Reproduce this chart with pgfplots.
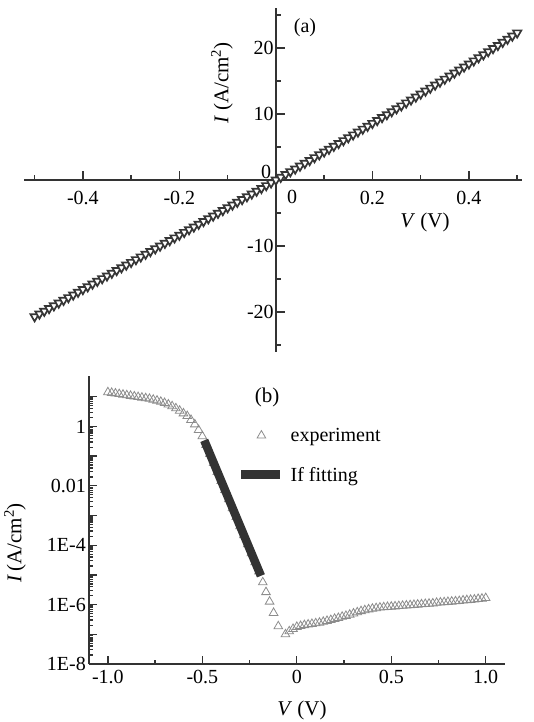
\documentclass[border=0pt]{standalone}
\usepackage{fontspec}
\setmainfont{Liberation Serif}
\usepackage{pgfplots}
\pgfplotsset{compat=1.18}
\definecolor{axisgray}{HTML}{333333}
\definecolor{markA}{HTML}{363636}
\definecolor{markB}{HTML}{8C8C8C}
\definecolor{fitc}{HTML}{333333}
\pgfplotsset{
  markleg/.style={legend image code/.code={\draw[mark repeat=2,mark phase=2,##1] plot coordinates {(0pt,0pt) (20pt,0pt) (39pt,0pt)};}},
  lineleg/.style={legend image code/.code={\draw[##1] (0pt,0pt) -- (39pt,0pt);}},
}
\pgfplotstableread{
V I
-0.50 -20.69
-0.49 -20.27
-0.48 -19.86
-0.47 -19.45
-0.46 -19.04
-0.45 -18.62
-0.44 -18.21
-0.43 -17.80
-0.42 -17.39
-0.41 -16.98
-0.40 -16.57
-0.39 -16.16
-0.38 -15.74
-0.37 -15.33
-0.36 -14.92
-0.35 -14.51
-0.34 -14.10
-0.33 -13.69
-0.32 -13.28
-0.31 -12.87
-0.30 -12.46
-0.29 -12.04
-0.28 -11.63
-0.27 -11.22
-0.26 -10.81
-0.25 -10.40
-0.24 -9.99
-0.23 -9.57
-0.22 -9.16
-0.21 -8.75
-0.20 -8.34
-0.19 -7.92
-0.18 -7.51
-0.17 -7.10
-0.16 -6.68
-0.15 -6.27
-0.14 -5.85
-0.13 -5.44
-0.12 -5.02
-0.11 -4.61
-0.10 -4.19
-0.09 -3.77
-0.08 -3.36
-0.07 -2.94
-0.06 -2.52
-0.05 -2.10
-0.04 -1.68
-0.03 -1.26
-0.02 -0.84
-0.01 -0.42
0.00 0.00
0.01 0.42
0.02 0.85
0.03 1.27
0.04 1.69
0.05 2.12
0.06 2.54
0.07 2.97
0.08 3.40
0.09 3.83
0.10 4.26
0.11 4.68
0.12 5.12
0.13 5.55
0.14 5.98
0.15 6.41
0.16 6.85
0.17 7.28
0.18 7.72
0.19 8.15
0.20 8.59
0.21 9.03
0.22 9.47
0.23 9.91
0.24 10.36
0.25 10.80
0.26 11.24
0.27 11.69
0.28 12.14
0.29 12.58
0.30 13.03
0.31 13.48
0.32 13.93
0.33 14.39
0.34 14.84
0.35 15.29
0.36 15.75
0.37 16.21
0.38 16.67
0.39 17.13
0.40 17.59
0.41 18.05
0.42 18.52
0.43 18.98
0.44 19.45
0.45 19.92
0.46 20.39
0.47 20.86
0.48 21.34
0.49 21.81
0.50 22.29
}\dataA
\pgfplotstableread{
V I
-1.00 14.13
-0.98 13.49
-0.96 12.88
-0.94 12.30
-0.92 11.75
-0.90 11.22
-0.88 10.72
-0.86 10.23
-0.84 9.772
-0.82 9.333
-0.80 8.913
-0.78 8.511
-0.76 7.943
-0.74 7.413
-0.72 6.761
-0.70 6.166
-0.68 5.495
-0.66 4.786
-0.64 4.074
-0.62 3.388
-0.60 2.754
-0.58 2.239
-0.56 1.660
-0.54 1.175
-0.52 0.7586
-0.50 0.4677
-0.48 0.2399
-0.46 0.1175
-0.44 0.05888
-0.42 0.02951
-0.40 0.01445
-0.38 0.007244
-0.36 0.003548
-0.34 0.001778
-0.32 8.913e-4
-0.30 4.365e-4
-0.28 2.188e-4
-0.26 1.072e-4
-0.24 5.370e-5
-0.22 2.692e-5
-0.20 1.318e-5
-0.180 5.623e-6
-0.163 2.630e-6
-0.144 1.259e-6
-0.123 5.248e-7
-0.098 1.862e-7
-0.060 1.0e-7
-0.04 1.259e-7
-0.02 1.514e-7
0.00 1.778e-7
0.02 1.905e-7
0.04 2.042e-7
0.06 2.138e-7
0.08 2.239e-7
0.10 2.344e-7
0.12 2.455e-7
0.14 2.630e-7
0.16 2.818e-7
0.18 3.020e-7
0.20 3.311e-7
0.22 3.548e-7
0.24 3.890e-7
0.26 4.169e-7
0.28 4.571e-7
0.30 5.012e-7
0.32 5.495e-7
0.34 6.026e-7
0.36 6.457e-7
0.38 6.918e-7
0.40 7.244e-7
0.42 7.586e-7
0.44 7.943e-7
0.46 8.128e-7
0.48 8.318e-7
0.50 8.511e-7
0.52 8.710e-7
0.54 8.913e-7
0.56 9.120e-7
0.58 9.333e-7
0.60 9.550e-7
0.62 9.772e-7
0.64 1.000e-6
0.66 1.023e-6
0.68 1.047e-6
0.70 1.072e-6
0.72 1.096e-6
0.74 1.148e-6
0.76 1.175e-6
0.78 1.202e-6
0.80 1.230e-6
0.82 1.259e-6
0.84 1.288e-6
0.86 1.318e-6
0.88 1.380e-6
0.90 1.413e-6
0.92 1.445e-6
0.94 1.479e-6
0.96 1.549e-6
0.98 1.585e-6
1.00 1.660e-6
}\dataB
\pgfplotstableread{
V I
-0.49 0.339
-0.39 0.01023
-0.29 3.090e-4
-0.19 9.333e-6
}\dataFit
\begin{document}
\begin{tikzpicture}[x=1pt,y=1pt]
\useasboundingbox (0,0) rectangle (533,722);
\pgfplotsset{
  every axis/.append style={font=\fontsize{20}{24}\selectfont},
  tick label style={font=\fontsize{20}{24}\selectfont, text=black},
}
% ---------------- panel (a)
\begin{axis}[
  at={(24pt,370.3pt)}, anchor=south west,
  scale only axis, width=498pt, height=343.4pt,
  xmin=-0.522, xmax=0.51, ymin=-26, ymax=26,
  axis lines=middle,
  axis line style={-, line width=1.8pt, axisgray},
  xtick={-0.4,-0.2,0.2,0.4}, xticklabels={},
  minor xtick={-0.5,-0.3,-0.1,0.1,0.3,0.5},
  ytick={-20,-10,10,20}, yticklabels={-20,-10,10,20},
  minor ytick={-25,-15,-5,5,15,25},
  tick align=inside,
  major tick length=9pt, minor tick length=5pt,
  every tick/.style={line width=1.5pt, axisgray},
  yticklabel style={anchor=east, inner sep=0pt, xshift=-2pt},
  clip=false,
]
\addplot[only marks, mark=triangle*, mark size=4.8pt,
  mark options={rotate=180, line width=1.7pt, draw=markA, fill=white}]
  table[x=V, y=I] {\dataA};
\foreach \t in {-0.4,-0.2,0.2,0.4} {
  \edef\tmp{\noexpand\node[text=black] at (axis cs:\t,0) [yshift=-18pt] {\t};}\tmp
}
\end{axis}
\node at (292,525) {\fontsize{20}{24}\selectfont 0};
\node at (266,550.3) {\fontsize{20}{24}\selectfont 0};
\node at (305,694) {\fontsize{20}{24}\selectfont (a)};
\node[rotate=90] at (222,639) {\fontsize{21}{24}\selectfont \textit{I} (A/cm\textsuperscript{2})};
\node at (425,500) {\fontsize{21}{24}\selectfont \textit{V} (V)};
% ---------------- panel (b)
\begin{axis}[
  at={(89pt,58pt)}, anchor=south west,
  scale only axis, width=415.6pt, height=288pt,
  xmin=-1.1, xmax=1.1, ymode=log, ymin=1e-8, ymax=50,
  axis x line=bottom, axis y line=left,
  axis line style={-, line width=1.8pt, axisgray},
  xtick={-1,-0.5,0,0.5,1}, xticklabels={-1.0,-0.5,0,0.5,1.0},
  minor xtick={-0.75,-0.25,0.25,0.75},
  ytick={1e-8,1e-7,1e-6,1e-5,1e-4,1e-3,1e-2,1e-1,1,10},
  yticklabels={1E-8,,1E-6,,1E-4,,0.01,,1,},
  tick align=inside,
  major tick length=8pt, minor tick length=4pt,
  every tick/.style={line width=1.3pt, axisgray},
  xticklabel style={anchor=north, inner sep=0pt, yshift=-6pt},
  yticklabel style={anchor=east, inner sep=0pt, xshift=-3pt},
  clip mode=individual,
  clip=false,
  legend style={at={(axis description cs:0.356,0.7245)}, anchor=west,
    draw=none, fill=none, inner sep=0pt, row sep=22pt,
    nodes={inner sep=1pt}, column sep=5pt,
    font=\fontsize{20}{24}\selectfont},
  legend cell align=left,
]
\addplot[only marks, mark=triangle, mark size=5pt,
  mark options={line width=0.8pt, draw=markB}, markleg]
  table[x=V, y=I] {\dataB};
\addlegendentry{experiment}
\addplot[no marks, line width=8.5pt, fitc, lineleg]
  table[x=V, y=I] {\dataFit};
\addlegendentry{If fitting}
\end{axis}
\node at (267,325) {\fontsize{21}{24}\selectfont (b)};
\node[rotate=90] at (15,179) {\fontsize{21}{24}\selectfont \textit{I}\,(A/cm\textsuperscript{2})};
\node at (302,12) {\fontsize{21}{24}\selectfont \textit{V} (V)};
\end{tikzpicture}
\end{document}
